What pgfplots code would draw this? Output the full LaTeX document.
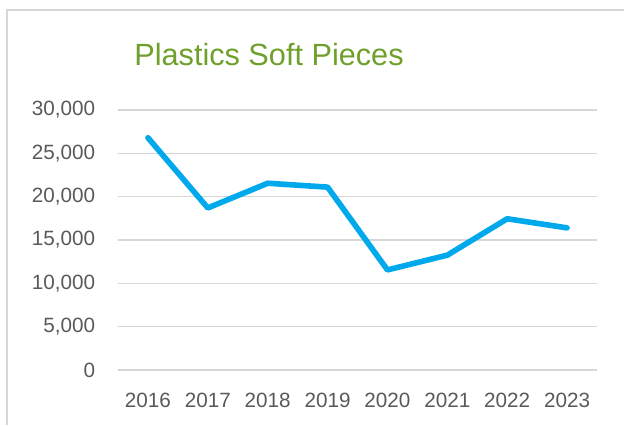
\documentclass[border=0pt]{standalone}
\usepackage{fontspec}
\setmainfont{Liberation Sans}
\usepackage{pgfplots}
\pgfplotsset{compat=1.18}

\definecolor{linecol}{HTML}{00A9EC}
\definecolor{titlecol}{HTML}{6FA02B}
\definecolor{gridcol}{HTML}{D6D6D6}
\definecolor{labelcol}{HTML}{595959}

\begin{document}
\begin{tikzpicture}
    % page = 624 x 425 px, 1px = 0.75pt, y downwards inside the scope
    \begin{scope}[x=0.75pt,y=-0.75pt]
        \useasboundingbox (0,0) rectangle (624,425);
        \draw[gridcol, line width=1.5pt] (7,425) -- (7,10) -- (624,10);
        \node[anchor=base, text=titlecol, font=\fontsize{23}{28}\selectfont]
            at (269,65.5) {Plastics Soft Pieces};
    \end{scope}

    \begin{axis}[
        at={(88.5pt,-277.5pt)}, anchor=south west,
        scale only axis,
        width=359.25pt, height=195pt,
        xmin=-0.5, xmax=7.5,
        ymin=0, ymax=30000,
        xtick={0,...,7},
        xticklabels={2016,2017,2018,2019,2020,2021,2022,2023},
        ytick={0,5000,...,30000},
        scaled y ticks=false,
        /pgf/number format/.cd, 1000 sep={,}, assume math mode=true,
        /pgfplots/.cd,
        ymajorgrids,
        grid style={gridcol, line width=1.2pt},
        axis line style={draw=none},
        major tick length=0pt,
        tick label style={text=labelcol, font=\fontsize{15.5}{18}\selectfont, inner sep=0pt},
        yticklabel style={anchor=east, xshift=-17pt},
        xticklabel style={anchor=north, yshift=-17pt},
    ]
        \addplot[linecol, line width=4.2pt, line join=round, line cap=round]
            coordinates {
                (0,26800)
                (1,18700)
                (2,21550)
                (3,21100)
                (4,11550)
                (5,13250)
                (6,17450)
                (7,16400)
            };
    \end{axis}
\end{tikzpicture}
\end{document}
